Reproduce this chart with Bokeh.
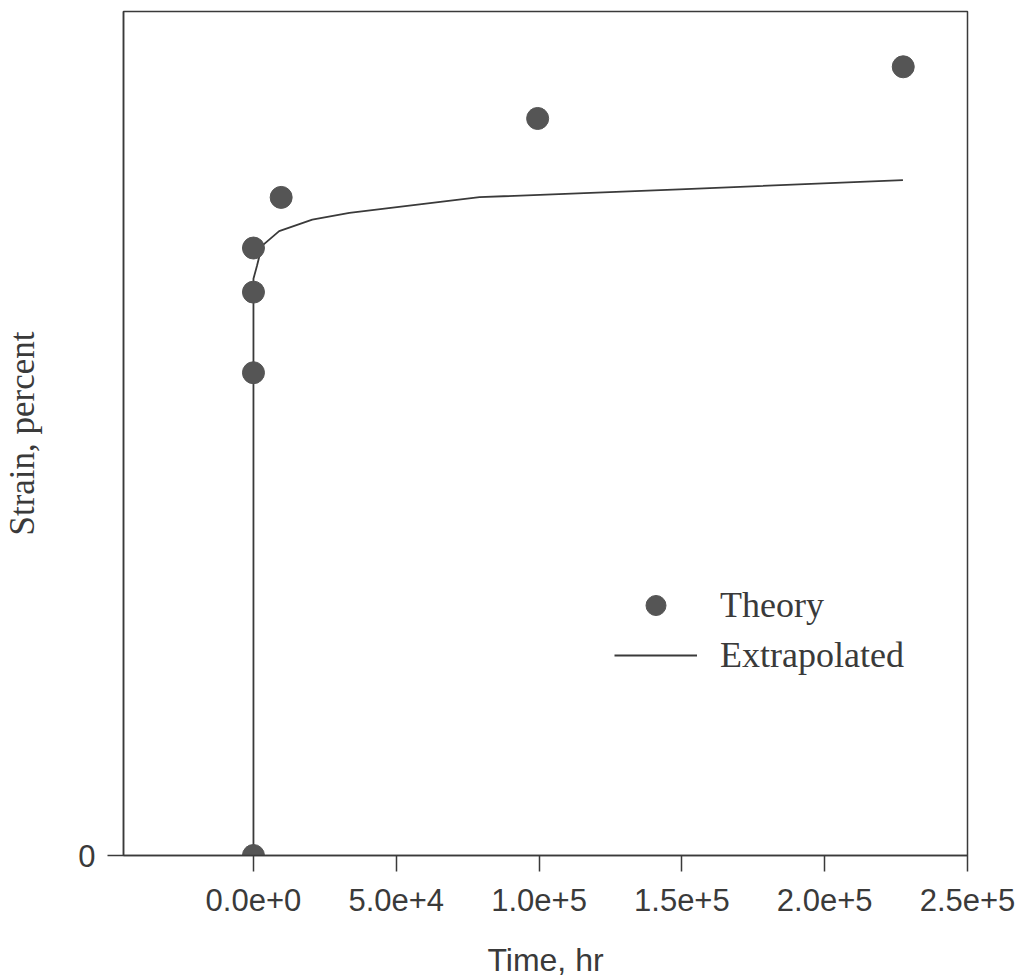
from bokeh.plotting import figure
from bokeh.models import Range1d, FixedTicker, Legend, LegendItem
from bokeh.embed import file_html
from bokeh.resources import INLINE

# Theory points (time in hr, strain in percent-scale units)
theory_time = [0, 0, 0, 0, 9700, 99500, 227500]
theory_strain = [0.0, 2.288, 2.670, 2.879, 3.119, 3.493, 3.738]

# Extrapolated curve
extrap_time = [0, 0, 1260, 2980, 9000, 20600, 33600, 79150, 149200, 227400]
extrap_strain = [0.0, 2.733, 2.796, 2.889, 2.959, 3.014, 3.046, 3.120, 3.157, 3.201]

x_ticks = [0, 50000, 100000, 150000, 200000, 250000]
x_tick_labels = ["0.0e+0", "5.0e+4", "1.0e+5", "1.5e+5", "2.0e+5", "2.5e+5"]
y_ticks = [0]
y_tick_labels = ["0"]

INK = "#3a3a3a"
DOT = "#555555"

p = figure(width=1015, height=972, output_backend="svg", toolbar_location=None,
           x_range=Range1d(-45500, 250000), y_range=Range1d(0, 4.0),
           min_border_left=123, min_border_top=11, min_border_right=48,
           min_border_bottom=117)
p.frame_width = 844
p.frame_height = 844

p.grid.visible = False
p.outline_line_color = INK
p.outline_line_width = 1.5
p.background_fill_color = "white"
p.border_fill_color = "white"

line_r = p.line(extrap_time, extrap_strain, line_color=INK, line_width=1.8)
dot_r = p.scatter(theory_time, theory_strain, size=22, fill_color=DOT,
                  line_color=DOT)

xa = p.xaxis[0]
xa.ticker = FixedTicker(ticks=x_ticks)
xa.major_label_overrides = {t: l for t, l in zip(x_ticks, x_tick_labels)}
xa.minor_tick_line_color = None
xa.major_tick_in = 0
xa.major_tick_out = 16
xa.axis_line_color = INK
xa.axis_line_width = 1.5
xa.major_tick_line_color = INK
xa.major_tick_line_width = 1.5
xa.major_label_text_font = "Liberation Sans"
xa.major_label_text_font_size = "31px"
xa.major_label_text_color = INK
xa.major_label_standoff = 17
xa.axis_label = "Time, hr"
xa.axis_label_text_font = "Liberation Sans"
xa.axis_label_text_font_size = "32px"
xa.axis_label_text_font_style = "normal"
xa.axis_label_text_color = INK
xa.axis_label_standoff = 28

ya = p.yaxis[0]
ya.ticker = FixedTicker(ticks=y_ticks)
ya.major_label_overrides = {t: l for t, l in zip(y_ticks, y_tick_labels)}
ya.minor_tick_line_color = None
ya.major_tick_in = 0
ya.major_tick_out = 16
ya.axis_line_color = INK
ya.axis_line_width = 1.5
ya.major_tick_line_color = INK
ya.major_tick_line_width = 1.5
ya.major_label_text_font = "Liberation Sans"
ya.major_label_text_font_size = "31px"
ya.major_label_text_color = INK
ya.major_label_standoff = 12
ya.axis_label = "Strain, percent"
ya.axis_label_text_font = "Liberation Serif"
ya.axis_label_text_font_size = "35px"
ya.axis_label_text_font_style = "normal"
ya.axis_label_text_color = INK
ya.axis_label_standoff = 33

legend = Legend(items=[LegendItem(label="Theory", renderers=[dot_r]),
                       LegendItem(label="Extrapolated", renderers=[line_r])],
                location=(491, 175))
legend.glyph_width = 83
legend.glyph_height = 50
legend.label_height = 50
legend.spacing = 0
legend.padding = 0
legend.margin = 0
legend.label_standoff = 23
legend.border_line_color = None
legend.background_fill_alpha = 0
legend.label_text_font = "Liberation Serif"
legend.label_text_font_size = "36px"
legend.label_text_color = INK
p.add_layout(legend, "center")

open("out.html", "w").write(file_html(p, INLINE))
